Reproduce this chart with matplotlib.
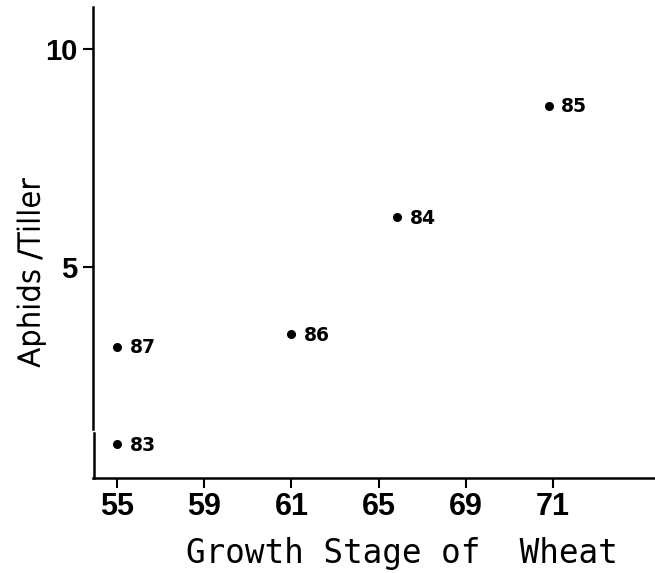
import numpy as np
import matplotlib
matplotlib.use('Agg')
import matplotlib.pyplot as plt
import matplotlib.patheffects as pe

# growth stage ticks as printed (unevenly numbered, evenly spaced)
stage_ticks = [55, 59, 61, 65, 69, 71]
aphid_ticks = [5, 10]

years = ['83', '84', '85', '86', '87']
growth_stage = [55, 65.85, 70.9, 61, 55]
aphids_per_tiller = [0.92, 6.15, 8.71, 3.45, 3.17]


def to_pos(x):
    x = np.asarray(x, dtype=float)
    p = np.interp(x, stage_ticks, np.arange(len(stage_ticks)))
    p = np.where(x < stage_ticks[0], (x - stage_ticks[0]) / 4.0, p)
    p = np.where(x > stage_ticks[-1], len(stage_ticks) - 1 + (x - stage_ticks[-1]) / 2.0, p)
    return p


def from_pos(p):
    p = np.asarray(p, dtype=float)
    x = np.interp(p, np.arange(len(stage_ticks)), stage_ticks)
    x = np.where(p < 0, stage_ticks[0] + p * 4.0, x)
    x = np.where(p > len(stage_ticks) - 1, stage_ticks[-1] + (p - len(stage_ticks) + 1) * 2.0, x)
    return x


fig = plt.figure(figsize=(6.55, 5.73), dpi=100)
ax = fig.add_axes([0.142, 0.166, 0.858, 0.822])

ax.set_xscale('function', functions=(to_pos, from_pos))
ax.plot(growth_stage, aphids_per_tiller, 'o', color='black', markersize=5.5)
for x, y, name in zip(growth_stage, aphids_per_tiller, years):
    ax.annotate(name, (x, y), textcoords='offset points', xytext=(9, -1),
                ha='left', va='center', fontsize=13.5, fontweight='bold',
                family='DejaVu Sans')

ax.set_xlim(53.9, 73.34)
ax.set_ylim(0.15, 10.98)
ax.set_xticks(stage_ticks)
ax.set_xticklabels([str(t) for t in stage_ticks])
ax.set_yticks(aphid_ticks)
ax.xaxis.set_minor_locator(matplotlib.ticker.NullLocator())

for lab in ax.get_xticklabels():
    lab.set_family('Liberation Sans')
    lab.set_fontweight('bold')
    lab.set_fontsize(22)
for lab in ax.get_yticklabels():
    lab.set_family('Liberation Sans')
    lab.set_fontweight('bold')
    lab.set_fontsize(21)
ax.tick_params(axis='x', length=7, width=1.5, pad=3, direction='out')
ax.tick_params(axis='y', length=7.5, width=1.5, pad=4, direction='out')

ax.spines['top'].set_visible(False)
ax.spines['right'].set_visible(False)
ax.spines['bottom'].set_linewidth(1.8)
# left axis drawn with the small break near the bottom
ax.spines['left'].set_visible(False)
ax.axvline(53.9, ymin=0.104, ymax=1.0, color='black', linewidth=1.8, clip_on=False)
ax.axvline(53.93, ymin=0.0, ymax=0.096, color='black', linewidth=1.8, clip_on=False)

thin_ink = [pe.withStroke(linewidth=0.9, foreground='black')]
ax.set_xlabel('Growth Stage of  Wheat', family='DejaVu Sans Mono', fontsize=23.5)
ax.set_ylabel('Aphids /Tiller', family='DejaVu Sans', fontsize=21,
              fontweight='light', path_effects=thin_ink)
ax.xaxis.set_label_coords(0.55, -0.125)
ax.yaxis.set_label_coords(-0.085, 0.435)

fig.savefig('out.png', dpi=100)
